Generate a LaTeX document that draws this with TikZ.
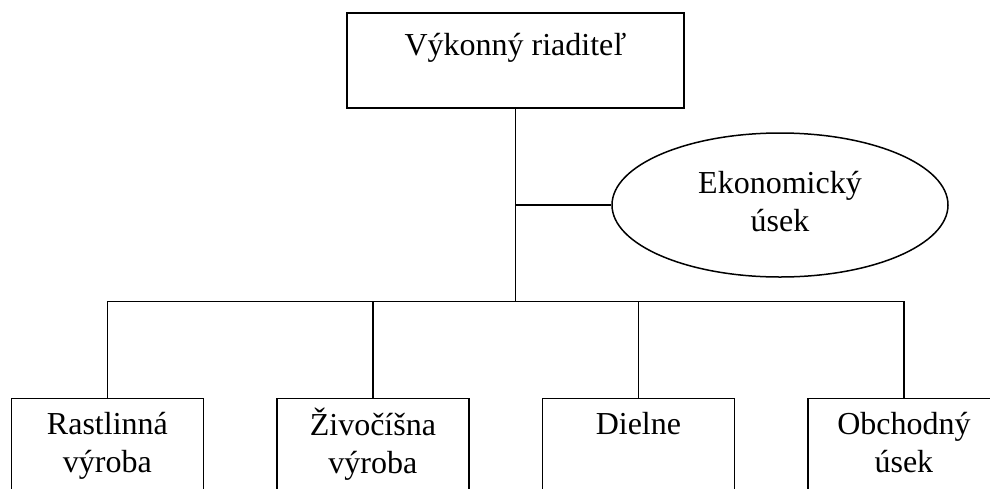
\documentclass[tikz,border=0pt]{standalone}
\usepackage{fontspec}
\setmainfont{Liberation Serif}
\usetikzlibrary{positioning,shapes.geometric}

\begin{document}
\begin{tikzpicture}[x=0.5pt,y=-0.5pt,node distance=36pt,line width=0.75pt,
  font=\fontsize{16}{19}\selectfont,
  unitbox/.style={draw,align=center,minimum width=96pt,minimum height=47.5pt,inner sep=0pt}]
\useasboundingbox (0,0) rectangle (990,488);
\node[unitbox,minimum width=168.5pt,text height=12pt,text depth=17.5pt] (ceo) at (515.5,60.5) {Výkonný riaditeľ};
\node[draw,ellipse,align=center,minimum width=168pt,minimum height=72pt,inner sep=0pt] (eko) at (780,205) {Ekonomický\strut\\úsek\strut};
\node[unitbox] (rast) at (107.4,446) {Rastlinná\strut\\výroba\strut};
\node[unitbox,right=of rast] (ziv) {Živočíšna\strut\\výroba\strut};
\node[unitbox,right=of ziv] (diel) {Dielne\strut\\\strut};
\node[unitbox,right=of diel] (obch) {Obchodný\strut\\úsek\strut};
\coordinate (hub) at (515.5,301.7);
\draw (ceo.south) -- (hub);
\draw (ceo.south |- eko.west) -- (eko.west);
\draw (rast.north) |- (hub) -| (obch.north);
\draw (ziv.north) -- (ziv.north |- hub);
\draw (diel.north) -- (diel.north |- hub);
\end{tikzpicture}
\end{document}
